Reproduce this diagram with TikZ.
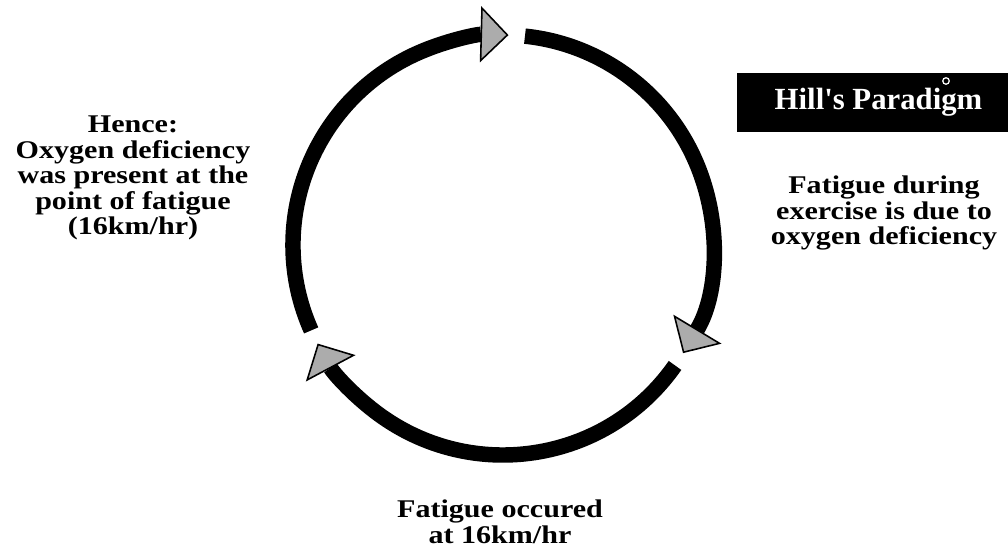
\documentclass[tikz,border=0pt]{standalone}
\usepackage{fontspec}
\setmainfont{Liberation Serif}[FakeStretch=1.18]
\newfontfamily\titlefont{Liberation Serif}
\usetikzlibrary{arrows.meta, calc}

\begin{document}
\begin{tikzpicture}[
  cyclearc/.style={line width=8.8pt, draw=black,
    -{Triangle[width=1.12cm, length=0.56cm, fill=gray!65, line width=0.9pt]}},
  steptext/.style={align=center, inner sep=0pt,
    font=\bfseries\fontsize{14.5}{14.5}\selectfont}
]
  \useasboundingbox (0,0) rectangle (20.16,10.98);
  \coordinate (c) at (10.06,6.08);

  % the three arcs of the cycle
  \draw[cyclearc] ($(c)+(204:4.2)$) arc[start angle=204, end angle=88.5, radius=4.2];
  \draw[cyclearc] ($(c)+(84:4.2)$) arc[start angle=84, end angle=-31, radius=4.2];
  \draw[cyclearc] ($(c)+(-35:4.2)$) arc[start angle=-35, end angle=-152, radius=4.2];

  % title box
  \node[fill=black, text=white, minimum width=5.66cm, minimum height=1.18cm,
    font=\titlefont\bfseries\fontsize{17.5}{20}\selectfont] (title) at (17.57,8.93) {Hill's Paradigm};
  \draw[white, line width=0.7pt] (18.92,9.36) circle (0.065);

  \node[steptext] (cause) at (17.68,6.72) {Fatigue during\\exercise is due to\\oxygen deficiency};
  \node[steptext] (occur) at (10.0,0.54) {Fatigue occured\\at 16km/hr};
  \node[steptext] (hence) at (2.66,7.42) {Hence:\\Oxygen deficiency\\was present at the\\point of fatigue\\(16km/hr)};
\end{tikzpicture}
\end{document}
